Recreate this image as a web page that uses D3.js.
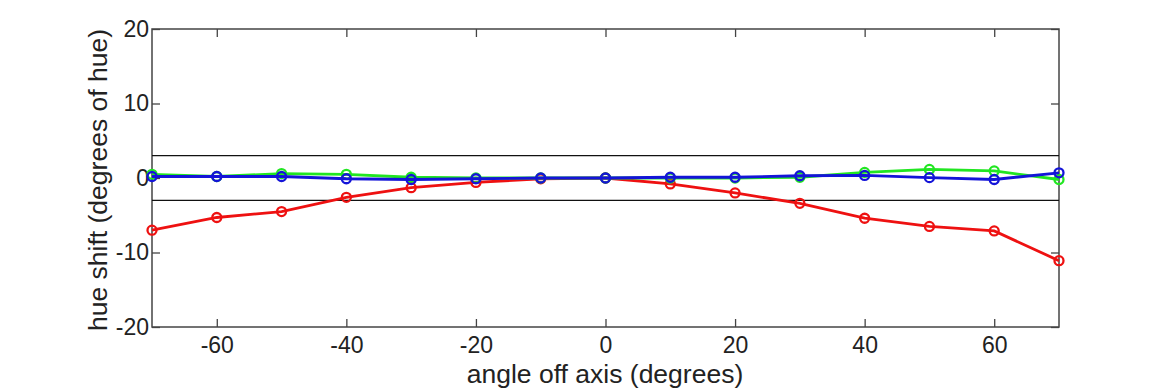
<!DOCTYPE html>
<meta charset="utf-8">
<script src="https://cdn.jsdelivr.net/npm/d3@7"></script>
<style>
  body { margin: 0; background: #fff; }
  text { font-family: "Liberation Sans", Arial, sans-serif; fill: #222; }
</style>
<body>
<div id="chart"></div>
<script>

  // ----- data
  var angles = [-70, -60, -50, -40, -30, -20, -10, 0, 10, 20, 30, 40, 50, 60, 70]
  var redShift   = [-7.0, -5.3, -4.5, -2.6, -1.3, -0.6, -0.1, 0, -0.8, -2.0, -3.4, -5.4, -6.5, -7.1, -11.1]
  var greenShift = [0.5, 0.2, 0.6, 0.5, 0.1, 0.0, 0.0, 0, 0.0, 0.0, 0.1, 0.75, 1.15, 0.95, -0.2]
  var blueShift  = [0.2, 0.2, 0.2, -0.1, -0.2, -0.1, 0.0, 0, 0.1, 0.1, 0.3, 0.35, 0.05, -0.2, 0.7]
  var xTicks = [-60, -40, -20, 0, 20, 40, 60]
  var yTicks = [-20, -10, 0, 10, 20]
  var limits = [-3, 3]

  var series = [
    {name: "red", color: "#ee1111", values: redShift},
    {name: "green", color: "#22e622", values: greenShift},
    {name: "blue", color: "#1414d8", values: blueShift}
  ]

  var W = 1170, H = 390
  var margin = {top: 29, right: 111, bottom: 63, left: 152}
  var width = W - margin.left - margin.right
  var height = H - margin.top - margin.bottom

  var svg = d3.select("#chart").append("svg")
              .attr("width", W)
              .attr("height", H)
  var g = svg.append("g")
             .attr("transform", "translate(" + margin.left + "," + margin.top + ")")

  var x = d3.scaleLinear().domain([-70, 70]).range([0, width])
  var y = d3.scaleLinear().domain([-20, 20]).range([height, 0])
  var plain = function(d) { return String(d) }   // hyphen minus, like the original

  // ----- axes (ticks inward, on all four sides)
  function styleAxis(sel) {
    sel.select(".domain").remove()
    sel.selectAll(".tick line").attr("stroke", "#444").attr("stroke-width", 1.3)
    sel.selectAll(".tick text").style("font-size", "23px").style("fill", "#222")
  }

  g.append("g")
   .attr("transform", "translate(0," + height + ")")
   .call(d3.axisBottom(x).tickValues(xTicks).tickSizeInner(-8).tickSizeOuter(0).tickPadding(10).tickFormat(plain))
   .call(styleAxis)
  g.append("g")
   .call(d3.axisTop(x).tickValues(xTicks).tickSizeInner(-8).tickSizeOuter(0).tickFormat(""))
   .call(styleAxis)
  g.append("g")
   .call(d3.axisLeft(y).tickValues(yTicks).tickSizeInner(-8).tickSizeOuter(0).tickPadding(3).tickFormat(plain))
   .call(styleAxis)
  g.append("g")
   .attr("transform", "translate(" + width + ",0)")
   .call(d3.axisRight(y).tickValues(yTicks).tickSizeInner(-8).tickSizeOuter(0).tickFormat(""))
   .call(styleAxis)

  g.append("rect")
   .attr("width", width)
   .attr("height", height)
   .attr("fill", "none")
   .attr("stroke", "#444")
   .attr("stroke-width", 1.5)

  // ----- +/- 3 limit lines
  g.selectAll(".limit")
   .data(limits)
   .enter()
   .append("line")
   .attr("x1", 0)
   .attr("x2", width)
   .attr("y1", function(d) { return y(d) })
   .attr("y2", function(d) { return y(d) })
   .attr("stroke", "#111")
   .attr("stroke-width", 1.3)

  // ----- series
  var line = d3.line()
               .x(function(d, i) { return x(angles[i]) })
               .y(function(d) { return y(d) })

  series.forEach(function(s) {
    g.append("path")
     .attr("d", line(s.values))
     .attr("fill", "none")
     .attr("stroke", s.color)
     .attr("stroke-width", 2.8)
    g.selectAll(".pt-" + s.name)
     .data(s.values)
     .enter()
     .append("circle")
     .attr("cx", function(d, i) { return x(angles[i]) })
     .attr("cy", function(d) { return y(d) })
     .attr("r", 4.5)
     .attr("fill", "none")
     .attr("stroke", s.color)
     .attr("stroke-width", 2.3)
  })

  // ----- labels
  svg.append("text")
     .attr("x", 605)
     .attr("y", 383)
     .attr("text-anchor", "middle")
     .style("font-size", "26.5px")
     .text("angle off axis (degrees)")
  svg.append("text")
     .attr("transform", "translate(107," + (margin.top + height / 2 + 2) + ") rotate(-90)")
     .attr("text-anchor", "middle")
     .style("font-size", "26.5px")
     .text("hue shift (degrees of hue)")

</script>
</body>
